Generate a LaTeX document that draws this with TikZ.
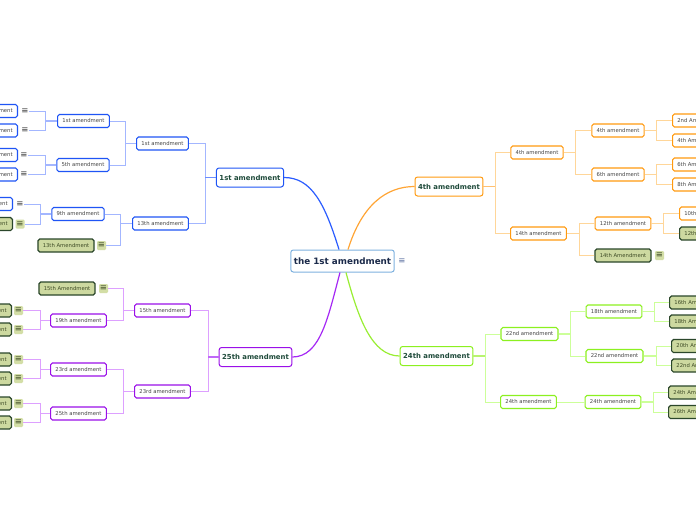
\documentclass[tikz,border=0pt]{standalone}
\usepackage{fontspec}
\setmainfont{DejaVu Sans}
\definecolor{bB}{HTML}{1F55F5}
\definecolor{bC}{HTML}{A3B6FF}
\definecolor{bM}{HTML}{2A5CFF}
\definecolor{oB}{HTML}{FF9A10}
\definecolor{oC}{HTML}{FFD699}
\definecolor{oM}{HTML}{FFA535}
\definecolor{pB}{HTML}{9A10E8}
\definecolor{pC}{HTML}{DDA0FF}
\definecolor{pM}{HTML}{A528F5}
\definecolor{gB}{HTML}{8CF020}
\definecolor{gC}{HTML}{CCFF99}
\definecolor{gM}{HTML}{99EE33}
\definecolor{rootB}{HTML}{7FB2DF}
\definecolor{rootT}{HTML}{1B2A4A}
\definecolor{lOneT}{HTML}{1E4A3A}
\definecolor{subT}{HTML}{444444}
\definecolor{leafF}{HTML}{CDD9A0}
\definecolor{leafD}{HTML}{2B472B}
\definecolor{leafT}{HTML}{3D4A25}
\definecolor{leafI}{HTML}{D3DEA6}
\definecolor{icT}{HTML}{3A3A3A}
\definecolor{rootI}{HTML}{5A6FA0}
\tikzset{
  subbox/.style={rounded corners=1.8pt, draw, fill=white, inner xsep=4.8pt, inner ysep=0pt,
    minimum height=13pt, font=\fontsize{5.3}{6}\selectfont, text=subT, line width=1.1pt},
  sbl/.style={subbox, draw=bB},
  sor/.style={subbox, draw=oB},
  spu/.style={subbox, draw=pB},
  sgr/.style={subbox, draw=gB},
  leafbox/.style={subbox, fill=leafF, draw=leafD, text=leafT, line width=1.2pt},
  lonebox/.style={rounded corners=2.5pt, draw, fill=white, inner xsep=3pt, inner ysep=0pt,
    minimum height=19pt, font=\bfseries\fontsize{6.9}{8}\selectfont, text=lOneT, line width=1pt},
  rootbox/.style={rounded corners=2.5pt, draw=rootB, fill=white, inner xsep=3pt, inner ysep=0pt,
    minimum height=22pt, font=\bfseries\fontsize{8.8}{10}\selectfont, text=rootT, line width=1pt},
  icn/.style={inner sep=0.3pt, font=\fontsize{8.5}{8.5}\selectfont, text=icT},
  icnl/.style={icn, fill=leafI, rounded corners=1.2pt, text=leafT, minimum width=9pt, minimum height=9pt},
  cbl/.style={draw=bC, line width=1pt},
  cor/.style={draw=oC, line width=1pt},
  cpu/.style={draw=pC, line width=1pt},
  cgr/.style={draw=gC, line width=1pt},
  stubw/.style={line width=1.6pt},
}
\begin{document}
\begin{tikzpicture}[x=1pt,y=-1pt]
\useasboundingbox (0,0) rectangle (696,520);
\clip (0,0) rectangle (696,520);
\fill[white] (0,0) rectangle (696,520);

% root
\node[rootbox] (root) at (342.5,261) {the 1st amendment};
\node[icn, text=rootI] (rooti) at (402,261) {≡};

% ===== blue branch =====
\node[lonebox, draw=bB] (b1) at (250,177.5) {1st amendment};
\node[sbl] (b11) at (162.5,143.5) {1st amendment};
\node[sbl] (b12) at (160.5,223.5) {13th amendment};
\node[sbl] (b111) at (83.5,121) {1st amendment};
\node[sbl] (b112) at (83,165) {5th amendment};
\node[sbl] (b121) at (78,214) {9th amendment};
\node[leafbox] (b122) at (66,245.5) {13th Amendment};
\node[icnl] (b122i) at (101.5,245.5) {≡};
\node[sbl, anchor=east] (b1111) at (18,111) {2nd amendment};
\node[icn] (b1111i) at (25,111) {≡};
\node[sbl, anchor=east] (b1112) at (18,130.5) {3rd amendment};
\node[icn] (b1112i) at (25,130.5) {≡};
\node[sbl, anchor=east] (b1121) at (18,155) {4th amendment};
\node[icn] (b1121i) at (24,155) {≡};
\node[sbl, anchor=east] (b1122) at (18,174.5) {6th amendment};
\node[icn] (b1122i) at (24,174.5) {≡};
\node[sbl, anchor=east] (b1211) at (13,204) {9th amendment};
\node[icn] (b1211i) at (20,204) {≡};
\node[leafbox, anchor=east] (b1212) at (13,224) {10th Amendment};
\node[icnl] (b1212i) at (20,224) {≡};

\coordinate (mb1) at (205,177.5);
\coordinate (mb11) at (125,143.5);
\coordinate (mb12) at (120.5,223.5);
\coordinate (mb111) at (45,121);
\coordinate (mb112) at (45,165);
\coordinate (mb121) at (40,214);
\draw[cbl] (b11.east) -| (mb1);
\draw[cbl] (b12.east) -| (mb1);
\draw[cbl, stubw, draw=bM!70] (mb1) -- (b1.west);
\draw[cbl] (b111.east) -| (mb11);
\draw[cbl] (b112.east) -| (mb11);
\draw[cbl, stubw] (mb11) -- (b11.west);
\draw[cbl] (b121.east) -| (mb12);
\draw[cbl] (b122i.east) -| (mb12);
\draw[cbl, stubw] (mb12) -- (b12.west);
\draw[cbl] (b1111i.east) -| (mb111);
\draw[cbl] (b1112i.east) -| (mb111);
\draw[cbl, stubw] (mb111) -- (b111.west);
\draw[cbl] (b1121i.east) -| (mb112);
\draw[cbl] (b1122i.east) -| (mb112);
\draw[cbl, stubw] (mb112) -- (b112.west);
\draw[cbl] (b1211i.east) -| (mb121);
\draw[cbl] (b1212i.east) -| (mb121);
\draw[cbl, stubw] (mb121) -- (b121.west);

% ===== purple branch =====
\node[lonebox, draw=pB] (p1) at (255.5,357) {25th amendment};
\node[spu] (p11) at (162.5,310.5) {15th amendment};
\node[spu] (p12) at (162.5,391.5) {23rd amendment};
\node[leafbox] (p111) at (67,288.5) {15th Amendment};
\node[icnl] (p111i) at (103.5,288.5) {≡};
\node[spu] (p112) at (78.5,320.5) {19th amendment};
\node[spu] (p121) at (78.5,369.5) {23rd amendment};
\node[spu] (p122) at (78.5,413.5) {25th amendment};
\node[leafbox, anchor=east] (p1121) at (12,310.5) {19th Amendment};
\node[icnl] (p1121i) at (18.5,310.5) {≡};
\node[leafbox, anchor=east] (p1122) at (12,329.5) {20th Amendment};
\node[icnl] (p1122i) at (18.5,329.5) {≡};
\node[leafbox, anchor=east] (p1211) at (12,359.5) {23rd Amendment};
\node[icnl] (p1211i) at (18.5,359.5) {≡};
\node[leafbox, anchor=east] (p1212) at (12,378.5) {24th Amendment};
\node[icnl] (p1212i) at (18.5,378.5) {≡};
\node[leafbox, anchor=east] (p1221) at (12,403.5) {25th Amendment};
\node[icnl] (p1221i) at (18.5,403.5) {≡};
\node[leafbox, anchor=east] (p1222) at (12,422.5) {27th Amendment};
\node[icnl] (p1222i) at (18.5,422.5) {≡};

\coordinate (mp1) at (208,357);
\coordinate (mp11) at (123.5,310.5);
\coordinate (mp12) at (123.5,391.5);
\coordinate (mp112) at (40,320.5);
\coordinate (mp121) at (40,369.5);
\coordinate (mp122) at (40,413.5);
\draw[cpu] (p11.east) -| (mp1);
\draw[cpu] (p12.east) -| (mp1);
\draw[cpu, stubw, draw=pM!70] (mp1) -- (p1.west);
\draw[cpu] (p111i.east) -| (mp11);
\draw[cpu] (p112.east) -| (mp11);
\draw[cpu, stubw] (mp11) -- (p11.west);
\draw[cpu] (p121.east) -| (mp12);
\draw[cpu] (p122.east) -| (mp12);
\draw[cpu, stubw] (mp12) -- (p12.west);
\draw[cpu] (p1121i.east) -| (mp112);
\draw[cpu] (p1122i.east) -| (mp112);
\draw[cpu, stubw] (mp112) -- (p112.west);
\draw[cpu] (p1211i.east) -| (mp121);
\draw[cpu] (p1212i.east) -| (mp121);
\draw[cpu, stubw] (mp121) -- (p121.west);
\draw[cpu] (p1221i.east) -| (mp122);
\draw[cpu] (p1222i.east) -| (mp122);
\draw[cpu, stubw] (mp122) -- (p122.west);

% ===== orange branch =====
\node[lonebox, draw=oB] (o1) at (449,186.5) {4th amendment};
\node[sor] (o11) at (537,152.5) {4th amendment};
\node[sor] (o12) at (538.5,233.5) {14th amendment};
\node[sor] (o111) at (618,130.5) {4th amendment};
\node[sor] (o112) at (618,174.5) {6th amendment};
\node[sor] (o121) at (623,223.5) {12th amendment};
\node[leafbox] (o122) at (623,255.5) {14th Amendment};
\node[icnl] (o122i) at (659.5,255.5) {≡};
\node[sor, anchor=west] (o1111) at (672,120.5) {2nd Amendment};
\node[sor, anchor=west] (o1112) at (672,140.5) {4th Amendment};
\node[sor, anchor=west] (o1121) at (672,164.5) {6th Amendment};
\node[sor, anchor=west] (o1122) at (672,184.5) {8th Amendment};
\node[sor, anchor=west] (o1211) at (679,213.5) {10th Amendment};
\node[leafbox, anchor=west] (o1212) at (679,233.5) {12th Amendment};

\coordinate (mo1) at (495,186.5);
\coordinate (mo11) at (575.5,152.5);
\coordinate (mo12) at (579,233.5);
\coordinate (mo111) at (656.5,130.5);
\coordinate (mo112) at (656.5,174.5);
\coordinate (mo121) at (663,223.5);
\draw[cor] (o11.west) -| (mo1);
\draw[cor] (o12.west) -| (mo1);
\draw[cor, stubw, draw=oM!70] (mo1) -- (o1.east);
\draw[cor] (o111.west) -| (mo11);
\draw[cor] (o112.west) -| (mo11);
\draw[cor, stubw] (mo11) -- (o11.east);
\draw[cor] (o121.west) -| (mo12);
\draw[cor] (o122.west) -| (mo12);
\draw[cor, stubw] (mo12) -- (o12.east);
\draw[cor] (o1111.west) -| (mo111);
\draw[cor] (o1112.west) -| (mo111);
\draw[cor, stubw] (mo111) -- (o111.east);
\draw[cor] (o1121.west) -| (mo112);
\draw[cor] (o1122.west) -| (mo112);
\draw[cor, stubw] (mo112) -- (o112.east);
\draw[cor] (o1211.west) -| (mo121);
\draw[cor] (o1212.west) -| (mo121);
\draw[cor, stubw] (mo121) -- (o121.east);

% ===== lime branch =====
\node[lonebox, draw=gB] (g1) at (436.5,356) {24th amendment};
\node[sgr] (g11) at (529.5,334) {22nd amendment};
\node[sgr] (g12) at (528.5,402) {24th amendment};
\node[sgr] (g111) at (614,311.5) {18th amendment};
\node[sgr] (g112) at (614.5,356) {22nd amendment};
\node[sgr] (g121) at (613,402) {24th amendment};
\node[leafbox, anchor=west] (g1111) at (669,302.5) {16th Amendment};
\node[leafbox, anchor=west] (g1112) at (669,321.5) {18th Amendment};
\node[leafbox, anchor=west] (g1121) at (671,346) {20th Amendment};
\node[leafbox, anchor=west] (g1122) at (671,365.5) {22nd Amendment};
\node[leafbox, anchor=west] (g1211) at (668,392.5) {24th Amendment};
\node[leafbox, anchor=west] (g1212) at (668,412) {26th Amendment};

\coordinate (mg1) at (485,356);
\coordinate (mg11) at (570,334);
\coordinate (mg111) at (654,311.5);
\coordinate (mg112) at (656,356);
\coordinate (mg121) at (653,402);
\draw[cgr] (g11.west) -| (mg1);
\draw[cgr] (g12.west) -| (mg1);
\draw[cgr, stubw, draw=gM!70] (mg1) -- (g1.east);
\draw[cgr] (g111.west) -| (mg11);
\draw[cgr] (g112.west) -| (mg11);
\draw[cgr, stubw] (mg11) -- (g11.east);
\draw[cgr] (g121.west) -- (g12.east);
\draw[cgr] (g1111.west) -| (mg111);
\draw[cgr] (g1112.west) -| (mg111);
\draw[cgr, stubw] (mg111) -- (g111.east);
\draw[cgr] (g1121.west) -| (mg112);
\draw[cgr] (g1122.west) -| (mg112);
\draw[cgr, stubw] (mg112) -- (g112.east);
\draw[cgr] (g1211.west) -| (mg121);
\draw[cgr] (g1212.west) -| (mg121);
\draw[cgr, stubw] (mg121) -- (g121.east);

% ===== main curves =====
\draw[bM, line width=1.2pt] ([xshift=-3.5pt]root.north) .. controls +(-14,-45) and +(28,0) .. (b1.east);
\draw[oM, line width=1.2pt] ([xshift=5.5pt]root.north) .. controls +(14,-45) and +(-28,0) .. (o1.west);
\draw[pM, line width=1.2pt] ([xshift=-2.5pt]root.south) .. controls +(-12,45) and +(28,0) .. (p1.east);
\draw[gM, line width=1.2pt] ([xshift=3.5pt]root.south) .. controls +(12,45) and +(-28,0) .. (g1.west);
\end{tikzpicture}
\end{document}
